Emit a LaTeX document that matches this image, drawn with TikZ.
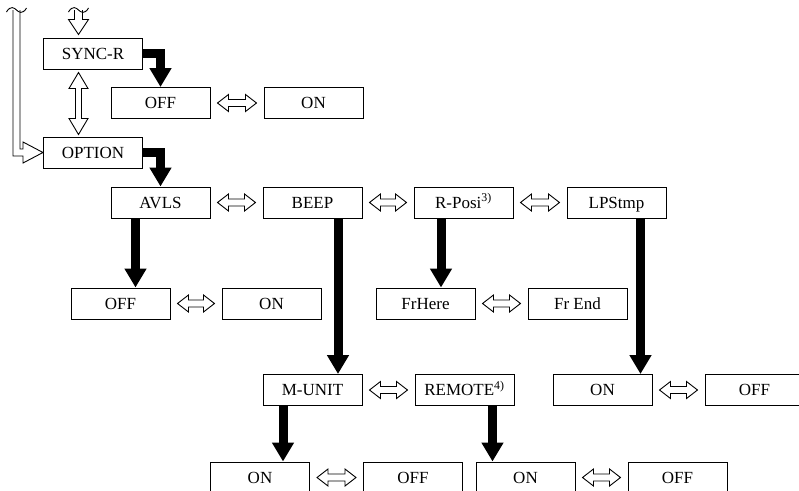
\documentclass[tikz,border=0pt]{standalone}
\usepackage{fontspec}
\setmainfont{Liberation Serif}
\usetikzlibrary{arrows.meta,positioning,calc}

% hollow double arrow between two boxes of one row
\newcommand{\swap}[2]{%
  \path[hollow] let \p1=(#1.east), \p2=(#2.west) in
    (\x1+7pt,\y1) -- (\x1+18pt,\y1+8.5pt) -- (\x1+18pt,\y1+3.5pt)
    -- (\x2-18pt,\y1+3.5pt) -- (\x2-18pt,\y1+8.5pt) -- (\x2-7pt,\y1)
    -- (\x2-18pt,\y1-8.5pt) -- (\x2-18pt,\y1-3.5pt)
    -- (\x1+18pt,\y1-3.5pt) -- (\x1+18pt,\y1-8.5pt) -- cycle;}
% break mark on a free end
\newcommand{\brk}[1]{%
  \draw[line width=.9pt] let \p1=(#1) in
    (\x1-10pt,\y1-2pt) .. controls (\x1-6pt,\y1+5pt) and (\x1-2pt,\y1+2pt) .. (\x1,\y1)
    .. controls (\x1+2pt,\y1-2pt) and (\x1+6pt,\y1-5pt) .. (\x1+10pt,\y1+2pt);}

\begin{document}
\begin{tikzpicture}[x=1pt,y=-1pt,
  font=\fontsize{17}{20}\selectfont,
  box/.style={draw,line width=1pt,minimum width=99pt,minimum height=31pt,
              inner sep=0pt,text height=14pt,text depth=3pt,fill=white},
  fat/.style={line width=9pt,-{Triangle[width=21pt,length=19pt]}},
  hollow/.style={draw,line width=.9pt,fill=white,line join=miter}
]
\useasboundingbox (0,0) rectangle (799,490);
\clip (0,0) rectangle (799,490);
% top level
\node[box] (sync) at (93,53.5) {SYNC-R};
\node[box] (syncoff) at (160.5,103) {OFF};
\node[box,right=53pt of syncoff] (syncon) {ON};
\node[box] (option) at (93,152.5) {OPTION};
% option menu
\node[box] (avls) at (160.5,202.5) {AVLS};
\node[box,right=52pt of avls] (beep) {BEEP};
\node[box,right=51pt of beep] (rposi) {R-Posi\textsuperscript{3)}};
\node[box,right=53pt of rposi] (lpstmp) {LPStmp};
\node[box] (avlsoff) at (120.5,303.5) {OFF};
\node[box,right=51pt of avlsoff] (avlson) {ON};
\node[box] (frhere) at (425.5,303.5) {FrHere};
\node[box,right=52pt of frhere] (frend) {Fr End};
\node[box] (munit) at (312.5,390) {M-UNIT};
\node[box,right=52pt of munit] (remote) {REMOTE\textsuperscript{4)}};
\node[box] (lpson) at (602.5,390) {ON};
\node[box,right=52pt of lpson] (lpsoff) {OFF};
\node[box] (muon) at (260,477.5) {ON};
\node[box,right=53pt of muon] (muoff) {OFF};
\node[box] (remon) at (525.5,477.5) {ON};
\node[box,right=52pt of remon] (remoff) {OFF};
% start points of the drops
\coordinate (avlsd) at ([xshift=-25pt]avls.south);
\coordinate (beepd) at ([xshift=25.5pt]beep.south);
\coordinate (rposid) at ([xshift=-22.5pt]rposi.south);
\coordinate (lpsd) at ([xshift=24pt]lpstmp.south);
\coordinate (munitd) at ([xshift=-29.5pt]munit.south);
\coordinate (remoted) at ([xshift=28pt]remote.south);
% black arrows
\draw[fat] (sync.east) -| (syncoff.north);
\draw[fat] (option.east) -| (avls.north);
\draw[fat] (avlsd) -- (avlsd |- avlsoff.north);
\draw[fat] (beepd) -- (beepd |- munit.north);
\draw[fat] (rposid) -- (rposid |- frhere.north);
\draw[fat] (lpsd) -- (lpsd |- lpson.north);
\draw[fat] (munitd) -- (munitd |- muon.north);
\draw[fat] (remoted) -- (remoted |- remon.north);
% hollow arrows
\swap{syncoff}{syncon}
\swap{avls}{beep}
\swap{beep}{rposi}
\swap{rposi}{lpstmp}
\swap{avlsoff}{avlson}
\swap{frhere}{frend}
\swap{munit}{remote}
\swap{lpson}{lpsoff}
\swap{muon}{muoff}
\swap{remon}{remoff}
\path[hollow] let \p1=([xshift=-14.5pt]sync.south), \p2=([xshift=-14.5pt]option.north) in
  (\x1,\y1-3pt) -- (\x1+9.5pt,\y1-19pt) -- (\x1+3pt,\y1-19pt) -- (\x1+3pt,\y2+18pt)
  -- (\x1+9.5pt,\y2+18pt) -- (\x1,\y2+2pt) -- (\x1-9.5pt,\y2+18pt) -- (\x1-3pt,\y2+18pt)
  -- (\x1-3pt,\y1-19pt) -- (\x1-9.5pt,\y1-19pt) -- cycle;
% incoming arrows
\coordinate (syncin) at (78.5,10);
\coordinate (optin) at (16.5,10);
\path[hollow] let \p1=(syncin), \p2=([xshift=-14.5pt]sync.north) in
  (\x1-4pt,\y1) -- (\x1-4pt,\y2+18pt) -- (\x1-10pt,\y2+18pt) -- (\x1,\y2+3pt)
  -- (\x1+10pt,\y2+18pt) -- (\x1+4pt,\y2+18pt) -- (\x1+4pt,\y1);
\path[hollow] let \p1=(optin), \p2=(option.west) in
  (\x1-3.5pt,\y1) -- (\x1-3.5pt,\y2-3.5pt) -- (\x2-20pt,\y2-3.5pt) -- (\x2-20pt,\y2-10.5pt)
  -- (\x2,\y2) -- (\x2-20pt,\y2+10.5pt) -- (\x2-20pt,\y2+3.5pt) -- (\x1+3.5pt,\y2+3.5pt)
  -- (\x1+3.5pt,\y1);
\brk{syncin}
\brk{optin}
\end{tikzpicture}
\end{document}
